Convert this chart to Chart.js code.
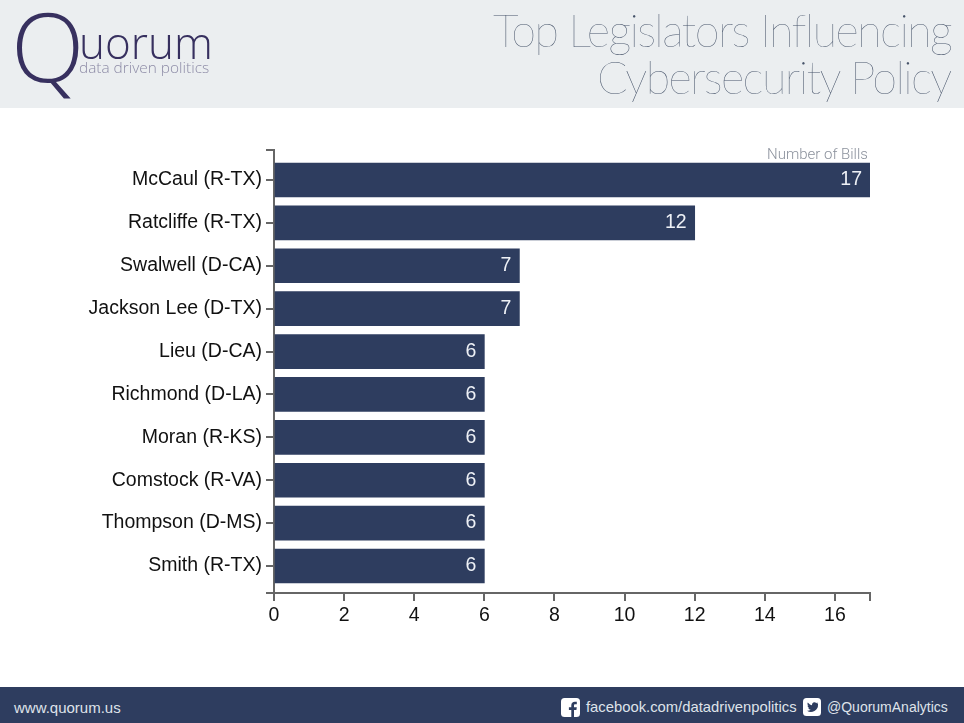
<!DOCTYPE html>
<html>
<head>
<meta charset="utf-8">
<title>Top Legislators Influencing Cybersecurity Policy</title>
<script src="https://cdn.jsdelivr.net/npm/chart.js@4"></script>
<style>
    html, body { margin: 0; padding: 0; background: #fff; }
    #page { position: relative; width: 964px; height: 723px; overflow: hidden; font-family: "Liberation Sans", sans-serif; }
    #header { position: absolute; left: 0; top: 0; width: 964px; height: 108px; background: #ebeef0; z-index: 2; }
    #footer { position: absolute; left: 0; top: 687px; width: 964px; height: 36px; background: #2e3d5f; color: #dfe3ea; font-size: 14.800px; }
    #footer span, #footer svg { position: absolute; }
    #chartBox { position: absolute; left: 0; top: 108px; width: 964px; height: 579px; }
    .logoQ { position: absolute; left: 11px; top: -21px; font: 300 96px "Open Sans"; color: #37305f; }
    .logoName { position: absolute; left: 79px; top: 12px; font: 300 44px "Open Sans"; color: #37305f; }
    .logoSub { position: absolute; left: 79px; top: 57px; font: 300 15.400px "Open Sans"; color: #8d8ba6; }
    .title { position: absolute; right: 13px; font: 100 45px Lato; letter-spacing: -1.600px; color: #465369; white-space: nowrap; will-change: transform; }
    .unit { position: absolute; right: 96px; top: 145px; font: 300 15px Roboto; color: #8b919c; will-change: transform; }
</style>
</head>
<body>
<div id="page">
    <div id="header">
        <div class="logoQ">Q</div>
        <div class="logoName">uorum</div>
        <div class="logoSub">data driven politics</div>
        <div class="title" style="top:3px">Top Legislators Influencing</div>
        <div class="title" style="top:50px">Cybersecurity Policy</div>
    </div>
    <div id="chartBox"><canvas id="chart" width="964" height="579"></canvas></div>
    <div class="unit">Number of Bills</div>
    <div id="footer">
        <span style="left:14px;top:12px;font-size:15px">www.quorum.us</span>
        <svg style="left:561px;top:11px" width="19" height="19" viewBox="0 0 19 19">
            <rect width="19" height="19" rx="3.5" fill="#fff"/>
            <path d="M13 19v-7h2.4l.4-2.8H13V7.6c0-.8.3-1.3 1.4-1.3h1.4V3.8c-.3 0-1.1-.1-2-.1-2.100 0-3.500 1.300-3.500 3.600v1.900H7.900V12h2.400v7z" fill="#2e3d5f"/>
        </svg>
        <span style="left:586px;top:12px">facebook.com/datadrivenpolitics</span>
        <svg style="left:803px;top:11px" width="18" height="18" viewBox="0 0 18 18">
            <rect width="18" height="18" rx="3.500" fill="#fff"/>
            <path d="M15 5.300c-.4.2-.9.300-1.400.4.500-.3.900-.8 1.100-1.400-.5.300-1 .5-1.500.6a2.500 2.500 0 0 0-4.200 2.300C7.900 7.100 6 6.100 4.800 4.500c-.7 1.100-.3 2.600.8 3.300-.4 0-.8-.1-1.100-.3 0 1.200.8 2.200 2 2.500-.4.100-.8.100-1.100 0 .3 1 1.200 1.700 2.300 1.700A5 5 0 0 1 4 12.800 7.100 7.100 0 0 0 15 6.500z" fill="#2e3d5f"/>
        </svg>
        <span style="left:827px;top:12px;font-size:14px">@QuorumAnalytics</span>
    </div>
</div>

<script>
// Veriler
const legislators = ['McCaul (R-TX)', 'Ratcliffe (R-TX)', 'Swalwell (D-CA)', 'Jackson Lee (D-TX)', 'Lieu (D-CA)',
    'Richmond (D-LA)', 'Moran (R-KS)', 'Comstock (R-VA)', 'Thompson (D-MS)', 'Smith (R-TX)'];
const billCounts = [17, 12, 7, 7, 6, 6, 6, 6, 6, 6];
const xMax = 17;
const xStep = 2;

const navy = '#2e3d5f';
const axisGray = '#666666';
const labelFont = { family: 'Liberation Sans', size: 19.5 };
const yMin = -0.7;
const yMax = 9.63;

// Bar üstündeki değerler
const barValueLabels = {
    id: 'barValueLabels',
    afterDatasetsDraw(chart) {
        const ctx = chart.ctx;
        ctx.save();
        ctx.font = '19.5px "Liberation Sans"';
        ctx.fillStyle = '#eef1f6';
        ctx.textAlign = 'right';
        ctx.textBaseline = 'middle';
        chart.getDatasetMeta(0).data.forEach((bar, i) => {
            ctx.fillText(billCounts[i], bar.x - 8, bar.y);
        });
        ctx.restore();
    }
};

new Chart(document.getElementById('chart'), {
    type: 'bar',
    data: {
        datasets: [{
            data: billCounts.map((count, i) => ({ x: count, y: i })),
            backgroundColor: navy,
            borderWidth: 0,
            barThickness: 34
        }]
    },
    options: {
        indexAxis: 'y',
        responsive: false,
        animation: false,
        // plot alanı: x 274-870, y 150-593 (sayfa koordinatı)
        layout: { padding: { left: 0, right: 94, top: 42, bottom: 0 } },
        plugins: { legend: { display: false }, tooltip: { enabled: false } },
        scales: {
            x: {
                type: 'linear',
                min: 0,
                max: xMax,
                afterFit: scale => { scale.height = 94; },
                grid: { drawOnChartArea: false, color: axisGray, tickLength: 8, lineWidth: 2 },
                border: { color: axisGray, width: 2 },
                ticks: {
                    stepSize: xStep,
                    autoSkip: false,
                    maxRotation: 0,
                    color: '#111',
                    font: labelFont,
                    padding: 3,
                    callback: v => (v % xStep === 0 ? v : '')
                }
            },
            y: {
                type: 'linear',
                reverse: true,
                offset: false,
                min: yMin,
                max: yMax,
                afterFit: scale => { scale.width = 274; },
                // uçtaki tickler: üst çentik ve x ekseninin sola uzayan kısmı
                afterBuildTicks: scale => {
                    scale.ticks = legislators.map((_, i) => ({ value: i }));
                    scale.ticks.unshift({ value: yMin });
                    scale.ticks.push({ value: yMax });
                },
                grid: { drawOnChartArea: false, color: axisGray, tickLength: 8, lineWidth: 2, offset: false },
                border: { color: axisGray, width: 2 },
                ticks: {
                    autoSkip: false,
                    color: '#111',
                    font: labelFont,
                    padding: 4,
                    callback: v => legislators[v] || ''
                }
            }
        }
    },
    plugins: [barValueLabels]
});
</script>
</body>
</html>
